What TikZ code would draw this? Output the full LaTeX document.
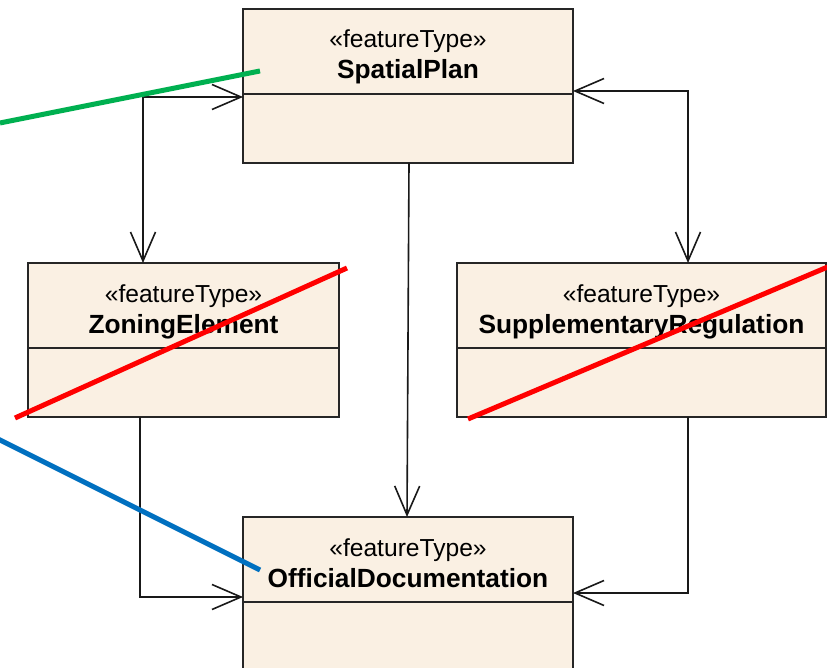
\documentclass[tikz,border=0pt]{standalone}
\usepackage{fontspec}
\setmainfont{Liberation Sans}
\usetikzlibrary{arrows.meta,calc}
\definecolor{classfill}{RGB}{250,240,227}
\definecolor{markgreen}{RGB}{0,176,80}
\definecolor{markred}{RGB}{255,0,0}
\definecolor{markblue}{RGB}{0,112,192}

% One feature-type class: #1 name, #2 left, #3 top, #4 width, #5 height, #6 class name
\newcommand{\featurebox}[6]{%
  \node[classbox, minimum width=#4pt, minimum height=#5pt] (#1) at (#2,#3) {};
  \node[stereo] (#1-st) at ($(#1.north)+(0,39)$) {«featureType»};
  \node[cname] (#1-nm) at ($(#1.north)+(0,70)$) {#6};
  \draw[divider] ($(#1.north west)+(0,85)$) -- ($(#1.north east)+(0,85)$);
}

\begin{document}
\begin{tikzpicture}[x=1pt,y=-1pt,
  classbox/.style={draw=black!85, line width=2pt, fill=classfill, rectangle,
    inner sep=0pt, outer sep=0pt, anchor=north west},
  stereo/.style={font=\fontsize{24.6}{28}\selectfont, anchor=base, inner sep=0pt},
  cname/.style={font=\fontsize{26.3}{30}\selectfont\bfseries, anchor=base, inner sep=0pt},
  divider/.style={draw=black!85, line width=1.8pt},
  barb/.tip={Straight Barb[length=29pt,width=25pt]},
  navboth/.style={draw=black!90, line width=1.6pt, barb-barb},
  navto/.style={draw=black!90, line width=1.6pt, -barb},
  strike/.style={line width=5pt},
]
\useasboundingbox (0,0) rectangle (827,668);
\begin{scope}
\clip (0,0) rectangle (827,668);

% classes
\featurebox{sp}{243}{9}{330}{154}{SpatialPlan}
\featurebox{ze}{28}{263}{311}{154}{ZoningElement}
\featurebox{sr}{457}{263}{369}{154}{SupplementaryRegulation}
\featurebox{od}{243}{517}{330}{220}{OfficialDocumentation}

% associations
\draw[navboth] (sp.west |- 0,97) -| ($(ze.north west)+(115,0)$);
\draw[navboth] (sp.east |- 0,91) -| ($(sr.north west)+(231,0)$);
\draw[navto] ($(sp.south)+(1,0)$) -- ($(od.north)+(-1,0)$);
\draw[navto] ($(ze.south west)+(112,0)$) |- (od.west |- 0,597);
\draw[navto] ($(sr.south west)+(231,0)$) |- (od.east |- 0,593);

% coloured markings
\coordinate (g0) at (0,123);
\coordinate (g1) at (260,71);
\draw[strike, markgreen] (g0) -- (g1);
\coordinate (r0) at (15,418);
\coordinate (r1) at (347,268);
\draw[strike, markred] (r0) -- (r1);
\coordinate (r2) at (468,419);
\coordinate (r3) at (830,266);
\draw[strike, markred] (r2) -- (r3);
\coordinate (b0) at (-2,439);
\coordinate (b1) at (260,570);
\draw[strike, markblue] (b0) -- (b1);
\end{scope}
\end{tikzpicture}
\end{document}
